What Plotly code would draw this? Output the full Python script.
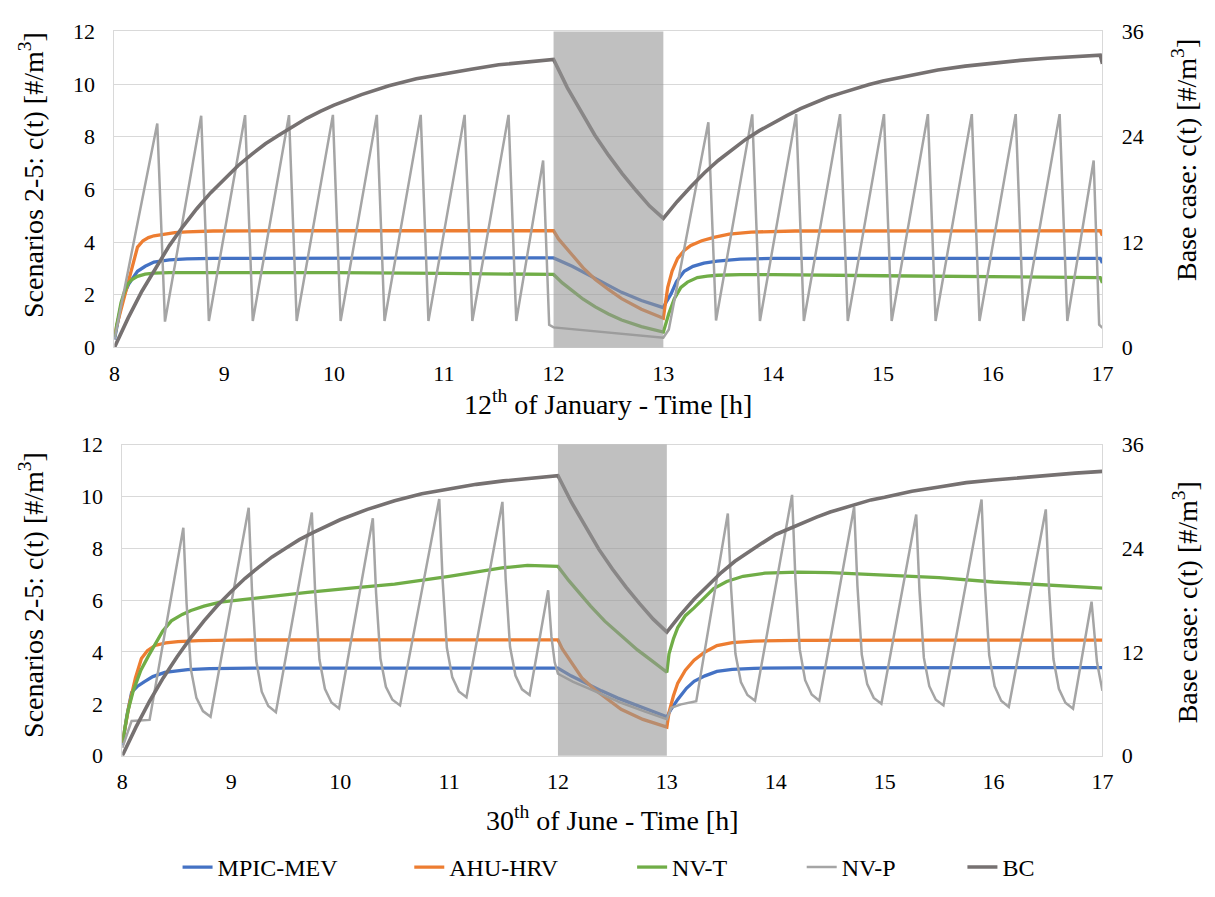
import plotly.graph_objects as go

# ---------------- DATA ----------------
series_names = ["MPIC-MEV", "AHU-HRV", "NV-T", "NV-P", "BC"]
x_tick_labels = ["8", "9", "10", "11", "12", "13", "14", "15", "16", "17"]

# ---- 12th of January ----
jan_mpic_t = [8.0, 8.03, 8.06, 8.09, 8.13, 8.17, 8.21, 8.28, 8.36, 8.5, 8.66, 8.9, 9.5, 10.5, 11.5, 12.0,
              12.17, 12.38, 12.62, 12.8, 13.0, 13.03, 13.07, 13.12, 13.19, 13.27, 13.37, 13.49, 13.7, 14.0,
              15.0, 16.0, 16.98, 17.0]
jan_mpic = [0.3, 1.0, 1.6, 2.03, 2.4, 2.65, 2.89, 3.08, 3.24, 3.32, 3.36, 3.38, 3.39, 3.4, 3.4, 3.4,
            3.08, 2.62, 2.09, 1.78, 1.51, 1.75, 2.03, 2.5, 2.89, 3.08, 3.2, 3.28, 3.35, 3.38,
            3.39, 3.39, 3.38, 3.2]

jan_ahu_t = [8.0, 8.05, 8.1, 8.15, 8.21, 8.26, 8.31, 8.36, 8.45, 8.55, 8.66, 8.9, 9.5, 10.5, 11.5, 12.0,
             12.045, 12.1, 12.17, 12.27, 12.38, 12.5, 12.62, 12.8, 13.0, 13.02, 13.04, 13.08, 13.13, 13.19,
             13.25, 13.35, 13.46, 13.6, 13.8, 14.2, 15.0, 16.0, 16.98, 17.0]
jan_ahu = [0.5, 1.3, 2.1, 2.9, 3.81, 4.05, 4.17, 4.24, 4.31, 4.36, 4.39, 4.42, 4.43, 4.43, 4.43, 4.43,
           4.12, 3.83, 3.51, 3.02, 2.58, 2.2, 1.85, 1.45, 1.11, 1.7, 2.28, 2.9, 3.38, 3.68,
           3.87, 4.05, 4.18, 4.3, 4.38, 4.42, 4.43, 4.43, 4.43, 4.25]

jan_nvt_t = [8.0, 8.03, 8.06, 8.09, 8.12, 8.16, 8.21, 8.28, 8.36, 8.5, 9.0, 10.0, 11.0, 12.0,
             12.08, 12.17, 12.27, 12.38, 12.5, 12.62, 12.8, 13.0, 13.02, 13.05, 13.1, 13.16, 13.22,
             13.31, 13.4, 13.49, 13.7, 14.0, 15.0, 16.0, 16.98, 17.0]
jan_nvt = [0.4, 1.1, 1.7, 2.1, 2.4, 2.58, 2.7, 2.78, 2.82, 2.84, 2.85, 2.84, 2.81, 2.77,
           2.45, 2.15, 1.83, 1.54, 1.27, 1.04, 0.79, 0.58, 0.9, 1.29, 1.85, 2.28, 2.48,
           2.65, 2.71, 2.74, 2.76, 2.76, 2.72, 2.68, 2.65, 2.45]

jan_nvp_t = [8.0, 8.39, 8.46, 8.79, 8.86, 9.19, 9.26, 9.59, 9.66, 9.99, 10.06, 10.39, 10.46, 10.79,
             10.86, 11.19, 11.26, 11.59, 11.66, 11.905, 11.96, 12.0, 13.0, 13.05, 13.41, 13.48, 13.81,
             13.88, 14.21, 14.28, 14.61, 14.68, 15.01, 15.08, 15.41, 15.48, 15.81, 15.88, 16.21, 16.28,
             16.61, 16.68, 16.92, 16.97, 17.0]
jan_nvp = [0.3, 8.5, 0.98, 8.8, 1.0, 8.82, 1.0, 8.82, 1.0, 8.83, 1.0, 8.83, 1.0, 8.83,
           1.0, 8.83, 1.0, 8.83, 1.0, 7.1, 0.86, 0.76, 0.37, 0.68, 8.55, 1.02, 8.85,
           1.0, 8.86, 1.0, 8.86, 1.0, 8.86, 1.0, 8.86, 1.0, 8.86, 1.0, 8.86, 1.0,
           8.86, 1.0, 7.1, 0.86, 0.74]

jan_bc_t = [8.0, 8.125, 8.25, 8.375, 8.5, 8.625, 8.75, 8.875, 9.0, 9.125, 9.25, 9.375, 9.5, 9.625,
            9.75, 9.875, 10.0, 10.25, 10.5, 10.75, 11.0, 11.25, 11.5, 11.75, 12.0,
            12.125, 12.25, 12.375, 12.5, 12.625, 12.75, 12.875, 13.0,
            13.125, 13.25, 13.375, 13.5, 13.625, 13.75, 13.875, 14.0, 14.125, 14.25, 14.375, 14.5,
            14.625, 14.75, 14.875, 15.0, 15.25, 15.5, 15.75, 16.0, 16.25, 16.5, 16.75, 16.98, 17.0]
jan_bc = [0.0, 3.36, 6.4, 9.1, 11.6, 13.8, 15.8, 17.6, 19.2, 20.7, 22.0, 23.2, 24.2, 25.2,
          26.1, 26.9, 27.6, 28.8, 29.8, 30.6, 31.2, 31.7, 32.2, 32.5, 32.8,
          29.6, 26.8, 24.2, 21.9, 19.8, 17.9, 16.1, 14.7,
          16.6, 18.3, 19.9, 21.3, 22.5, 23.7, 24.7, 25.6, 26.4, 27.2, 27.9, 28.5,
          29.0, 29.5, 29.95, 30.35, 31.0, 31.6, 32.05, 32.4, 32.7, 32.95, 33.15, 33.3, 32.3]

# ---- 30th of June ----
jun_mpic_t = [8.0, 8.04, 8.085, 8.14, 8.2, 8.28, 8.39, 8.5, 8.6, 8.8, 9.2, 10.5, 11.5, 12.0,
              12.12, 12.25, 12.4, 12.55, 12.7, 12.85, 13.0, 13.04, 13.1, 13.18, 13.25, 13.35, 13.46,
              13.6, 13.8, 14.2, 15.0, 16.0, 17.0]
jun_mpic = [0.4, 1.5, 2.44, 2.68, 2.85, 3.05, 3.21, 3.28, 3.32, 3.36, 3.38, 3.38, 3.38, 3.38,
            3.08, 2.8, 2.5, 2.22, 1.98, 1.72, 1.5, 1.8, 2.17, 2.6, 2.87, 3.08, 3.25,
            3.33, 3.37, 3.39, 3.4, 3.4, 3.4]

jun_ahu_t = [8.0, 8.06, 8.12, 8.175, 8.23, 8.3, 8.4, 8.51, 8.7, 9.0, 10.5, 12.0, 12.04, 12.13, 12.22,
             12.34, 12.46, 12.58, 12.78, 13.0, 13.02, 13.06, 13.1, 13.17, 13.25, 13.35, 13.46, 13.6,
             13.8, 14.2, 15.5, 17.0]
jun_ahu = [0.5, 1.9, 3.0, 3.75, 4.05, 4.25, 4.35, 4.4, 4.44, 4.46, 4.47, 4.47, 4.12, 3.54, 3.0,
           2.54, 2.15, 1.79, 1.4, 1.1, 1.67, 2.3, 2.8, 3.3, 3.68, 4.0, 4.25, 4.36,
           4.42, 4.45, 4.46, 4.46]

jun_nvt_t = [8.0, 8.05, 8.1, 8.17, 8.24, 8.3, 8.37, 8.45, 8.55, 8.63, 8.75, 8.9, 9.1, 9.35, 9.7, 10.1,
             10.5, 11.0, 11.3, 11.5, 11.72, 11.9, 12.0, 12.1, 12.2, 12.3, 12.43, 12.58, 12.73, 12.87,
             13.0, 13.02, 13.06, 13.1, 13.17, 13.25, 13.33, 13.43, 13.55, 13.7, 13.9, 14.2, 14.5,
             15.0, 15.5, 16.0, 16.5, 17.0]
jun_nvt = [0.5, 1.7, 2.5, 3.3, 3.85, 4.3, 4.8, 5.2, 5.45, 5.6, 5.77, 5.92, 6.02, 6.15, 6.3, 6.46,
           6.62, 6.92, 7.12, 7.25, 7.34, 7.33, 7.3, 6.75, 6.24, 5.77, 5.19, 4.62, 4.08, 3.64,
           3.22, 3.93, 4.5, 4.94, 5.4, 5.7, 6.05, 6.45, 6.72, 6.92, 7.04, 7.08, 7.06,
           6.96, 6.87, 6.7, 6.58, 6.46]

jun_nvp_t = [8.0, 8.085, 8.25,
             8.56, 8.59, 8.63, 8.68, 8.74, 8.81,
             9.16, 9.19, 9.23, 9.28, 9.34, 9.41,
             9.74, 9.77, 9.81, 9.86, 9.92, 9.99,
             10.3, 10.33, 10.37, 10.42, 10.48, 10.55,
             10.91, 10.94, 10.98, 11.03, 11.09, 11.16,
             11.49, 11.52, 11.56, 11.61, 11.67, 11.74,
             11.91, 11.94, 11.97, 12.0, 12.14, 12.28, 12.58, 12.8, 13.0, 13.04, 13.13, 13.27,
             13.56, 13.59, 13.63, 13.68, 13.74, 13.81,
             14.15, 14.18, 14.22, 14.27, 14.33, 14.4,
             14.72, 14.75, 14.79, 14.84, 14.9, 14.97,
             15.29, 15.32, 15.36, 15.41, 15.47, 15.54,
             15.89, 15.92, 15.96, 16.01, 16.07, 16.14,
             16.48, 16.51, 16.55, 16.6, 16.66, 16.73,
             16.9, 16.95, 17.0]
jun_nvp = [0.3, 1.34, 1.38,
           8.79, 5.87, 3.32, 2.23, 1.72, 1.5,
           9.56, 6.41, 3.65, 2.47, 1.92, 1.68,
           9.38, 6.36, 3.71, 2.58, 2.05, 1.82,
           9.16, 6.27, 3.75, 2.66, 2.16, 1.94,
           9.9, 6.84, 4.16, 3.02, 2.48, 2.25,
           9.79, 6.81, 4.2, 3.09, 2.56, 2.34,
           6.38, 4.6, 3.6, 3.16, 2.85, 2.6, 2.04, 1.7, 1.41, 1.85, 1.98, 2.1,
           9.34, 6.45, 3.93, 2.84, 2.34, 2.12,
           10.06, 6.88, 4.11, 2.91, 2.36, 2.12,
           9.6, 6.56, 3.9, 2.76, 2.23, 2.0,
           9.3, 6.36, 3.78, 2.68, 2.16, 1.94,
           9.88, 6.68, 3.88, 2.68, 2.12, 1.88,
           9.5, 6.42, 3.73, 2.58, 2.04, 1.81,
           5.94, 3.6, 2.5]

jun_bc_t = [8.0, 8.125, 8.25, 8.375, 8.5, 8.625, 8.75, 8.875, 9.0, 9.125, 9.25, 9.375, 9.5, 9.625,
            9.75, 9.875, 10.0, 10.25, 10.5, 10.75, 11.0, 11.25, 11.5, 11.75, 12.0,
            12.125, 12.25, 12.375, 12.5, 12.625, 12.75, 12.875, 13.0,
            13.125, 13.25, 13.375, 13.5, 13.625, 13.75, 13.875, 14.0, 14.125, 14.25, 14.375, 14.5,
            14.625, 14.75, 14.875, 15.0, 15.25, 15.5, 15.75, 16.0, 16.25, 16.5, 16.75, 17.0]
jun_bc = [0.0, 3.3, 6.3, 9.0, 11.4, 13.6, 15.6, 17.4, 19.0, 20.5, 21.8, 23.0, 24.0, 25.0,
          25.8, 26.6, 27.3, 28.5, 29.5, 30.3, 30.9, 31.4, 31.8, 32.1, 32.4,
          29.3, 26.5, 23.9, 21.6, 19.5, 17.6, 15.8, 14.3,
          16.3, 18.1, 19.7, 21.2, 22.5, 23.6, 24.6, 25.6, 26.3, 27.0, 27.6, 28.2,
          28.7, 29.2, 29.6, 29.9, 30.6, 31.1, 31.6, 31.9, 32.2, 32.45, 32.7, 32.9]

# Break (lunch) period shaded on both panels
break_start, break_end = 12, 13

# ---------------- STYLE ----------------
W, H = 1215, 897
FONT = "Liberation Serif"
colors = {"MPIC-MEV": "#4472C4", "AHU-HRV": "#ED7D31", "NV-T": "#70AD47",
          "NV-P": "#A5A5A5", "BC": "#767171"}
widths = {"MPIC-MEV": 3.3, "AHU-HRV": 3.3, "NV-T": 3.3, "NV-P": 2.5, "BC": 3.6}


def fx(p):
    return p / W


def fy(p):
    return 1 - p / H


fig = go.Figure()

panels = [
    ("x", "y", "y3", [(jan_mpic_t, jan_mpic), (jan_ahu_t, jan_ahu), (jan_nvt_t, jan_nvt),
                      (jan_nvp_t, jan_nvp), (jan_bc_t, jan_bc)], True),
    ("x2", "y2", "y4", [(jun_mpic_t, jun_mpic), (jun_ahu_t, jun_ahu), (jun_nvt_t, jun_nvt),
                        (jun_nvp_t, jun_nvp), (jun_bc_t, jun_bc)], False),
]
legend_ids = ["legend", "legend2", "legend3", "legend4", "legend5"]

for xa, ya, ya_r, data, show in panels:
    for i, name in enumerate(series_names):
        t, v = data[i]
        fig.add_trace(go.Scatter(
            x=t, y=v, mode="lines", name=name,
            line=dict(color=colors[name], width=widths[name]),
            xaxis=xa, yaxis=(ya_r if name == "BC" else ya),
            showlegend=show, legend=legend_ids[i], legendgroup=name))

# layout geometry (pixels)
top_x = [fx(110), fx(1112)]
bot_x = [fx(118), fx(1112)]
top_y = [fy(345), fy(20)]
bot_y = [fy(765), fy(445)]

tickfont = dict(family=FONT, size=22, color="black")
grid = "#D9D9D9"
clear = "rgba(0,0,0,0)"

common_x = dict(range=[8, 17], tickvals=[8, 9, 10, 11, 12, 13, 14, 15, 16, 17], ticktext=x_tick_labels,
                showgrid=False, zeroline=False, showline=True, mirror=True, linecolor=grid, linewidth=1,
                ticks="outside", ticklen=6, tickcolor=clear, tickfont=tickfont)
common_yl = dict(range=[0, 12], dtick=2, tick0=0, showgrid=True, gridcolor=grid, gridwidth=1,
                 zeroline=False, showline=True, mirror=True, linecolor=grid, linewidth=1,
                 ticks="outside", ticklen=14, tickcolor=clear, tickfont=tickfont)
common_yr = dict(range=[0, 36], dtick=12, tick0=0, showgrid=False, zeroline=False, showline=False,
                 ticks="outside", ticklen=14, tickcolor=clear, tickfont=tickfont, side="right")

# one legend per entry so each entry sits where the reference puts it
legend_text_starts = [216, 451, 677, 849, 1012]
legend_defs = {}
for lid, s in zip(legend_ids, legend_text_starts):
    legend_defs[lid] = dict(x=fx(s - 42), y=fy(880), xanchor="left", yanchor="middle",
                            orientation="h", bgcolor=clear, borderwidth=0,
                            font=dict(family=FONT, size=24, color="black"))

fig.update_layout(
    width=W, height=H, autosize=False,
    margin=dict(l=0, r=0, t=0, b=0),
    font=dict(family=FONT, size=22, color="black"),
    paper_bgcolor="white", plot_bgcolor="white",
    xaxis=dict(domain=top_x, anchor="y", **common_x),
    yaxis=dict(domain=top_y, anchor="x", **common_yl),
    yaxis3=dict(overlaying="y", anchor="x", **common_yr),
    xaxis2=dict(domain=bot_x, anchor="y2", **common_x),
    yaxis2=dict(domain=bot_y, anchor="x2", **common_yl),
    yaxis4=dict(overlaying="y2", anchor="x2", **common_yr),
    **legend_defs,
)

# shaded break period (drawn above the lines, semi-transparent)
for xr, yr in [("x", "y domain"), ("x2", "y2 domain")]:
    fig.add_shape(type="rect", xref=xr, yref=yr, x0=break_start, x1=break_end, y0=0, y1=1,
                  fillcolor="rgba(150,150,150,0.6)", line=dict(width=0), layer="above")

annots = [
    dict(text="12<sup>th</sup> of January - Time [h]", x=fx(611), y=fy(402), textangle=0),
    dict(text="30<sup>th</sup> of June - Time [h]", x=fx(615), y=fy(830), textangle=0),
    dict(text="Scenarios 2-5: c(t) [#/m<sup>3</sup>]", x=fx(26), y=fy(168), textangle=-90),
    dict(text="Scenarios 2-5: c(t) [#/m<sup>3</sup>]", x=fx(26), y=fy(600), textangle=-90),
    dict(text="Base case: c(t) [#/m<sup>3</sup>]", x=fx(1196), y=fy(152), textangle=-90),
    dict(text="Base case: c(t) [#/m<sup>3</sup>]", x=fx(1196), y=fy(607), textangle=-90),
]
for a in annots:
    fig.add_annotation(xref="paper", yref="paper", showarrow=False, xanchor="center",
                       yanchor="middle", font=dict(family=FONT, size=28, color="black"), **a)

fig.write_html("out.html", config={"displayModeBar": False},
               post_script="document.body.style.margin='0px';")
